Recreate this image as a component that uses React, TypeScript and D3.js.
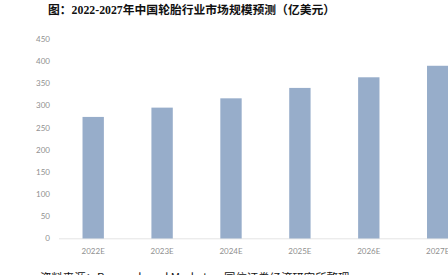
import React from "react";
import * as d3 from "d3";

const categories = ["2022E", "2023E", "2024E", "2025E", "2026E", "2027E"];
const values = [274.5, 295.5, 316.5, 340, 364, 390];
const yTicks = [0, 50, 100, 150, 200, 250, 300, 350, 400, 450];

const W = 448;
const H = 275;

export default function App() {
  const x = d3
    .scaleBand<string>()
    .domain(categories)
    .range([58.75, 472.15])
    .paddingInner(0.69)
    .paddingOuter(0.345);
  const y = d3.scaleLinear().domain([0, 450]).range([238.5, 39.2]);

  return (
    <svg
      width={W}
      height={H}
      style={{ position: "fixed", left: 0, top: 0, background: "#fff" }}
    >
      <text
        x={48}
        y={14.2}
        fontSize={11.8}
        fontWeight="bold"
        fill="#111"
        fontFamily="'Noto Sans CJK SC', sans-serif"
      >
        <tspan>图：</tspan>
        <tspan fontFamily="'Liberation Serif', serif">2022-2027</tspan>
        <tspan>年中国轮胎行业市场规模预测（亿美元）</tspan>
      </text>

      {yTicks.map((t) => (
        <text
          key={t}
          x={50}
          y={y(t)}
          dy="0.35em"
          textAnchor="end"
          fontSize={8}
          fill="#8f8f8f"
          fontFamily="Lato, 'Liberation Sans', sans-serif"
        >
          {t}
        </text>
      ))}

      <line x1={59} x2={W} y1={238.8} y2={238.8} stroke="#e4e4e4" strokeWidth={1} />

      {categories.map((c, i) => (
        <rect
          key={c}
          x={x(c)}
          y={y(values[i])}
          width={x.bandwidth()}
          height={y(0) - y(values[i])}
          fill="#97adca"
        />
      ))}

      {categories.map((c) => (
        <text
          key={c}
          x={(x(c) as number) + x.bandwidth() / 2}
          y={251}
          dy="0.35em"
          textAnchor="middle"
          fontSize={8}
          fill="#8f8f8f"
          fontFamily="Lato, 'Liberation Sans', sans-serif"
        >
          {c}
        </text>
      ))}

      <text
        x={40}
        y={282.2}
        fontSize={11.4}
        fill="#111"
        fontFamily="'Noto Sans CJK SC', sans-serif"
      >
        资料来源：Research and Markets，国信证券经济研究所整理
      </text>
    </svg>
  );
}
